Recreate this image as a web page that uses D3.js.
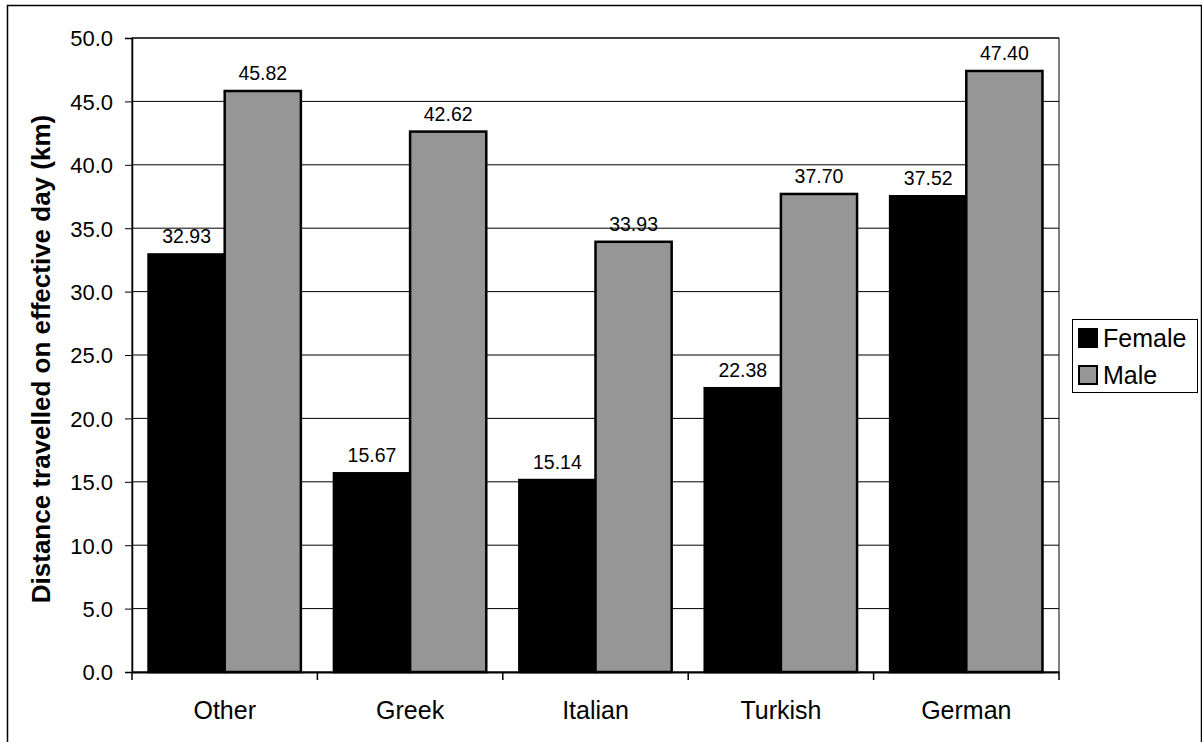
<!DOCTYPE html>
<html><head><meta charset="utf-8">
<script src="https://cdn.jsdelivr.net/npm/d3@7"></script>
<style>body{margin:0;background:#fff}svg{display:block}</style>
</head><body>
<script>
const categories = ["Other","Greek","Italian","Turkish","German"];
const seriesNames = ["Female","Male"];
const female = [32.93,15.67,15.14,22.38,37.52];
const male = [45.82,42.62,33.93,37.70,47.40];
const yTicks = [0,5,10,15,20,25,30,35,40,45,50];
const colors = {Female:"#000000", Male:"#969696"};
const FONT = "Liberation Sans, Arial, sans-serif";

const W=1202,H=742;
const svg=d3.select("body").append("svg").attr("width",W).attr("height",H);
svg.append("rect").attr("x",7.5).attr("y",5.5).attr("width",1194).attr("height",740).attr("fill","none").attr("stroke","#000").attr("stroke-width",1.5);

const L=132,R=1059,T=38,B=672;
const x=d3.scaleBand().domain(categories).range([L,R]).paddingInner(0).paddingOuter(0);
const y=d3.scaleLinear().domain([0,50]).range([B,T]);
const inner=d3.scaleBand().domain(seriesNames).range([0,x.bandwidth()]).paddingOuter(0.217).paddingInner(0);

// gridlines
svg.append("g").selectAll("line").data(yTicks.filter(d=>d>0)).join("line")
 .attr("x1",L).attr("x2",R).attr("y1",d=>y(d)).attr("y2",d=>y(d)).attr("stroke","#000").attr("stroke-width",1);
svg.append("rect").attr("x",L).attr("y",T).attr("width",R-L).attr("height",B-T).attr("fill","none").attr("stroke","#000").attr("stroke-width",1);

const data=categories.map((c,i)=>({c,vals:[{s:"Female",v:female[i]},{s:"Male",v:male[i]}]}));
const g=svg.append("g").selectAll("g").data(data).join("g").attr("transform",d=>`translate(${x(d.c)},0)`);
g.selectAll("rect").data(d=>d.vals).join("rect")
 .attr("x",d=>inner(d.s)).attr("width",inner.bandwidth())
 .attr("y",d=>y(d.v)).attr("height",d=>B-y(d.v))
 .attr("fill",d=>colors[d.s]).attr("stroke","#000").attr("stroke-width",2.5);
g.selectAll("text").data(d=>d.vals).join("text")
 .attr("x",d=>inner(d.s)+inner.bandwidth()/2).attr("y",d=>y(d.v)-11)
 .attr("text-anchor","middle").attr("font-family",FONT).attr("font-size",19.5)
 .text(d=>d.v.toFixed(2));

// y axis
const ya=svg.append("g").attr("transform",`translate(${L},0)`)
 .call(d3.axisLeft(y).tickValues(yTicks).tickFormat(d3.format(".1f")).tickSize(7).tickPadding(12));
ya.select(".domain").attr("stroke","#000").attr("stroke-width",1.5);
ya.selectAll("text").attr("font-family",FONT).attr("font-size",22).attr("fill","#000").attr("dy","0.36em");
// x axis
const xa=svg.append("g").attr("transform",`translate(0,${B})`)
 .call(d3.axisBottom(x).tickSize(0).tickPadding(29));
xa.select(".domain").attr("stroke","#000").attr("stroke-width",2);
xa.selectAll("text").attr("font-family",FONT).attr("font-size",25).attr("fill","#000");
const bounds=[...categories.map(c=>x(c)),R];
svg.append("g").selectAll("line").data(bounds).join("line")
 .attr("x1",d=>d).attr("x2",d=>d).attr("y1",B).attr("y2",B+8).attr("stroke","#000").attr("stroke-width",1.5);

svg.append("text").attr("transform",`translate(50,${(T+B)/2+4}) rotate(-90)`)
 .attr("text-anchor","middle").attr("font-family",FONT).attr("font-size",26).attr("font-weight","bold")
 .text("Distance travelled on effective day (km)");

// legend
const lg=svg.append("g");
lg.append("rect").attr("x",1072.5).attr("y",319.5).attr("width",125).attr("height",73).attr("fill","#fff").attr("stroke","#000").attr("stroke-width",1);
seriesNames.forEach((s,i)=>{
 const base=347+i*37;
 lg.append("rect").attr("x",1079).attr("y",base-18).attr("width",18).attr("height",18).attr("fill",colors[s]).attr("stroke","#000").attr("stroke-width",2);
 lg.append("text").attr("x",1103).attr("y",base).attr("font-family",FONT).attr("font-size",25).text(s);
});
</script>
</body></html>
